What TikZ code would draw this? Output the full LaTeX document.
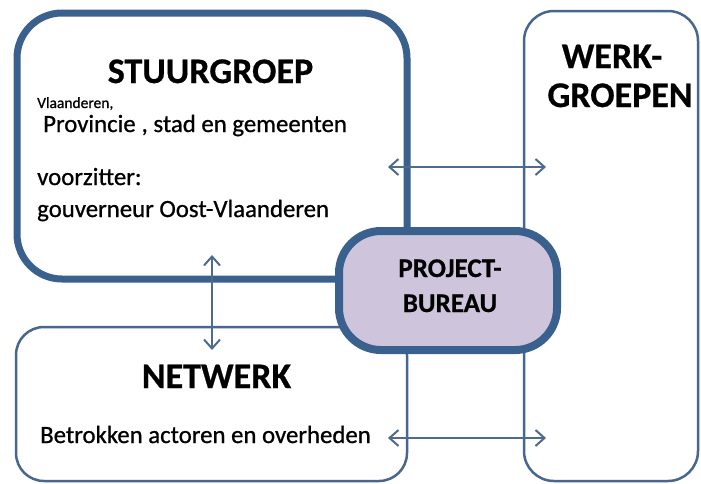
\documentclass[tikz,border=0pt]{standalone}
\usepackage{fontspec}
\setmainfont{Carlito}
\newfontfamily\heavyfont[FakeBold=0.8]{Carlito}
\newfontfamily\heavybold[FakeBold=0.6]{Carlito Bold}
\usetikzlibrary{arrows.meta}
\definecolor{thickblue}{RGB}{58,96,142}
\definecolor{thinblue}{RGB}{72,102,142}
\definecolor{arrowblue}{RGB}{78,106,140}
\definecolor{lavender}{RGB}{206,197,221}
\tikzset{
  thickbox/.style={draw=thickblue, line width=7pt, fill=white, rounded corners=45pt, inner sep=0pt},
  thinbox/.style={draw=thinblue, line width=2.5pt, fill=white, rounded corners=30pt, inner sep=0pt},
  bureaubox/.style={draw=thickblue, line width=8pt, fill=lavender, rounded corners=42pt, inner sep=0pt},
  title/.style={font=\heavybold\fontsize{36}{40}\selectfont, inner sep=0pt, anchor=base},
  body/.style={font=\heavyfont\fontsize{24.8}{28}\selectfont, inner sep=0pt, anchor=base west},
  small/.style={font=\heavyfont\fontsize{15.5}{18}\selectfont, inner sep=0pt, anchor=base west},
  btitle/.style={font=\heavybold\fontsize{27}{30}\selectfont, inner sep=0pt, anchor=base},
  link/.style={draw=arrowblue, line width=2pt, {Straight Barb[length=9pt,width=16pt,line width=2pt]}-{Straight Barb[length=9pt,width=16pt,line width=2pt]}}
}
\begin{document}
\begin{tikzpicture}[x=1pt,y=-1pt]
\useasboundingbox (0,0) rectangle (701,483);
% boxes
\node[thickbox, minimum width=390pt, minimum height=266pt] (stuur) at (212,146) {};
\node[thinbox, minimum width=391pt, minimum height=154pt, rounded corners=28pt] (netwerk) at (211.5,404) {};
\node[thinbox, minimum width=174pt, minimum height=470pt] (werk) at (611,246) {};
% connector end points
\coordinate (tl) at (388,167);
\coordinate (tr) at (546,167);
\coordinate (bl) at (388,438);
\coordinate (br) at (546,438);
\coordinate (vt) at (212,255);
\coordinate (vb) at (212,350);
\draw[link] (tl) -- (tr);
\draw[link] (bl) -- (br);
\draw[link] (vt) -- (vb);
% project bureau on top
\node[bureaubox, minimum width=218pt, minimum height=119pt] (bureau) at (448,290.5) {};
% texts
\node[title] (t1) at (210.5,83) {STUURGROEP};
\node[small] (t2) at (37,108) {Vlaanderen,};
\node[body] (t3) at (43,132) {Provincie\hspace{6pt}, stad en gemeenten};
\node[body] (t4) at (37,185) {voorzitter:};
\node[body] (t5) at (37,217) {gouverneur Oost-Vlaanderen};
\node[title] (w1) at (612,68) {WERK-};
\node[title] (w2) at (620,107) {GROEPEN};
\node[btitle] (p1) at (450,277) {PROJECT-};
\node[btitle] (p2) at (450,312) {BUREAU};
\node[title] (n1) at (216.5,388) {NETWERK};
\node[body] (n2) at (40,443) {Betrokken actoren en overheden};
\end{tikzpicture}
\end{document}
